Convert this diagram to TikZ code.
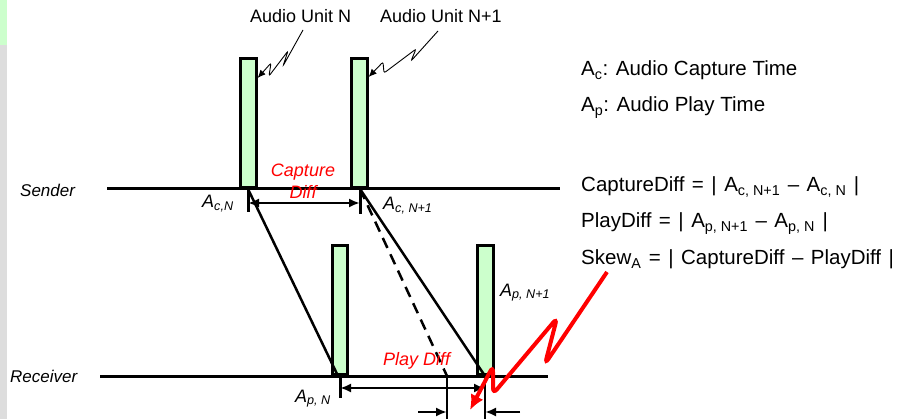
\documentclass[tikz,border=0pt]{standalone}
\usepackage{fontspec}
\setmainfont{Liberation Sans}
\usetikzlibrary{arrows.meta}
\definecolor{barfill}{RGB}{204,255,204}
\definecolor{stripgray}{RGB}{221,221,221}
\newcommand{\widespaces}{\spaceskip 7.5pt\relax}
\newcommand{\lowtxt}[1]{\textsubscript{\spaceskip 0pt\relax #1}}

\begin{document}
\begin{tikzpicture}[x=1pt, y=-1pt,
  axis/.style={black, line width=3pt},
  bar/.style={draw=black, fill=barfill, line width=2.8pt, minimum width=15.5pt, minimum height=129pt, inner sep=0pt, anchor=south},
  tick/.style={black, line width=3pt},
  flow/.style={black, line width=2.5pt},
  dim/.style={black, line width=2.5pt, {Latex[length=11pt,width=9pt]}-{Latex[length=11pt,width=9pt]}},
  half/.style={black, line width=2.5pt, -{Latex[length=11pt,width=9pt]}},
  callout/.style={black, line width=0.9pt, rounded corners=2pt, -{Latex[length=8pt,width=7pt]}},
  skew/.style={red, line width=4pt, rounded corners=6pt, -{Latex[length=15pt,width=14pt]}},
  unit/.style={inner sep=0pt, anchor=base west, font=\fontsize{18}{20}\selectfont},
  side/.style={inner sep=0pt, anchor=base west, font=\fontsize{17}{20}\selectfont\itshape},
  tlbl/.style={inner sep=0pt, anchor=base west, font=\fontsize{18}{20}\selectfont\itshape},
  note/.style={inner sep=0pt, red, font=\fontsize{18}{22}\selectfont\itshape},
  defn/.style={inner sep=0pt, anchor=base west, font=\fontsize{20.5}{24}\selectfont},
  eqn/.style={defn, font=\fontsize{20.5}{24}\selectfont\widespaces}]
\useasboundingbox (0,0) rectangle (901,419);
% side strip
\fill[stripgray] (0,0) rectangle (7,419);
\fill[barfill] (0,0) rectangle (7,45);
% audio units
\node[bar] (barN) at (248.5,189) {};
\node[bar] (barN1) at (359.5,189) {};
\node[bar] (barpN) at (340,376) {};
\node[bar] (barpN1) at (485.5,376) {};
% rails
\coordinate (sL) at (107,189); \coordinate (sR) at (560,189);
\coordinate (rL) at (100,376); \coordinate (rR) at (548,376);
\draw[axis] (sL) -- (sR);
\draw[axis] (rL) -- (rR);
\node[side] (snd) at (20,197) {Sender};
\node[side] (rcv) at (10,382) {Receiver};
% time points
\coordinate (cN) at (248,189); \coordinate (cNb) at (248,212);
\coordinate (cN1) at (360,189); \coordinate (cN1b) at (360,214);
\coordinate (pN) at (340,376); \coordinate (pNb) at (340,398);
\coordinate (pD) at (447,376); \coordinate (pDb) at (447,419);
\coordinate (pN1) at (485,376); \coordinate (pN1b) at (485,419);
\draw[tick] (cN) -- (cNb);
\draw[tick] (cN1) -- (cN1b);
\draw[tick] (pN) -- (pNb);
\draw[flow] (pD) -- (pDb);
\draw[flow] (pN1) -- (pN1b);
% transfer
\draw[flow] (cN) -- (338,376);
\draw[flow] (cN1) -- (pN1);
\draw[flow, dash pattern=on 11pt off 7pt] (cN1) -- (pD);
% differences
\coordinate (cdL) at (248,203); \coordinate (cdR) at (360,203);
\draw[dim] (cdL) -- (cdR);
\coordinate (pdL) at (340,388); \coordinate (pdR) at (485,388);
\draw[dim] (pdL) -- (pdR);
\coordinate (skL) at (418,412); \coordinate (skR) at (520,412);
\draw[half] (skL) -- (447,412);
\draw[half] (skR) -- (485,412);
\node[note, align=center] (capd) at (303,181) {Capture\\Diff};
\node[note, anchor=base west] (playd) at (383,365) {Play Diff};
% labels
\node[tlbl] (lcN) at (202,208) {A\textsubscript{c,N}};
\node[tlbl] (lcN1) at (383,210) {A\textsubscript{c, N+1}};
\node[tlbl] (lpN1) at (500,296) {A\textsubscript{p, N+1}};
\node[tlbl] (lpN) at (295,402) {A\textsubscript{p, N}};
\node[unit] (uN) at (250,23) {Audio Unit N};
\node[unit] (uN1) at (380,23) {Audio Unit N+1};
\draw[callout] (303,30) -- (283,66) -- (288,51) -- (269,76) -- (271,63) -- (barN.east |- 0,78);
\draw[callout] (438,31) -- (411,61) -- (416,49) -- (384,73) -- (383,62) -- (barN1.east |- 0,77);
% definitions
\node[defn] (dc) at (581,76) {A\textsubscript{c}: Audio Capture Time};
\node[defn] (dp) at (581,112) {A\textsubscript{p}: Audio Play Time};
\node[eqn] (eqc) at (581,192) {CaptureDiff = | A\lowtxt{c, N+1} – A\lowtxt{c, N} |};
\node[eqn] (eqp) at (581,228) {PlayDiff = | A\lowtxt{p, N+1} – A\lowtxt{p, N} |};
\node[eqn] (eqs) at (581,265) {Skew\lowtxt{A} = | CaptureDiff – PlayDiff |};
% skew pointer
\draw[skew] (607,272) -- (545,364) -- (557,318) -- (493,394) -- (493,366) -- (470,410);
\end{tikzpicture}
\end{document}
